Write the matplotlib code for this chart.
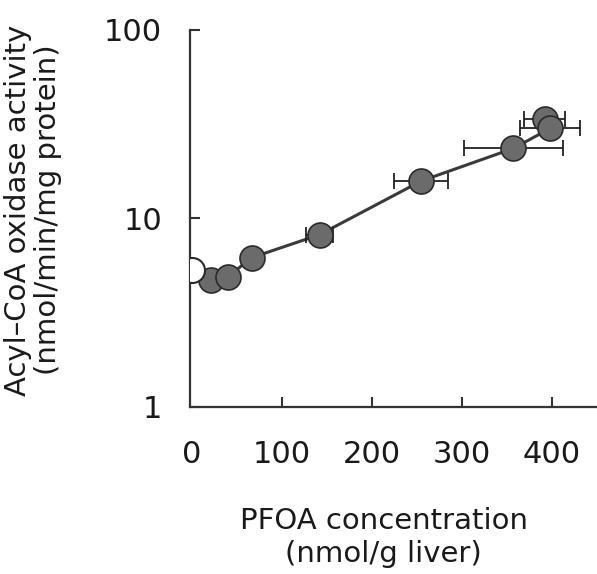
import matplotlib
matplotlib.use('Agg')
import matplotlib.pyplot as plt

plt.rcParams['font.family'] = 'DejaVu Sans'

# control (open circle)
ctrl_x = [0]
ctrl_y = [5.3]

# PFOA-treated groups (filled circles)
pfoa_x = [22, 40, 67, 142, 255, 357, 392, 398]
pfoa_y = [4.7, 4.9, 6.2, 8.2, 15.8, 23.5, 33.5, 30.0]
pfoa_xerr = [0, 0, 0, 15, 30, 55, 23, 33]

# fitted curve
line_x = [0, 22, 40, 67, 142, 255, 357, 398]
line_y = [5.1, 4.7, 4.9, 6.2, 8.2, 15.8, 23.5, 30.0]

fig = plt.figure(figsize=(5.97, 5.74), dpi=100)
ax = fig.add_axes([0.318, 0.291, 0.682, 0.657])

ax.plot(line_x, line_y, color='#3a3a3a', lw=2.2, zorder=2)
ax.errorbar(pfoa_x, pfoa_y, xerr=pfoa_xerr, fmt='none', ecolor='#222222',
            elinewidth=1.3, capsize=6, capthick=1.3, zorder=3)
ax.plot(pfoa_x, pfoa_y, 'o', ms=18, mfc='#6b6b6b', mec='#2a2a2a', mew=1.2, zorder=4)
ax.plot(ctrl_x, ctrl_y, 'o', ms=18, mfc='white', mec='#2a2a2a', mew=1.5, zorder=5)

ax.set_yscale('log')
ax.set_ylim(1, 100)
ax.set_xlim(-2, 450)
ax.set_yticks([1, 10, 100])
ax.set_yticklabels(['1', '10', '100'])
ax.minorticks_off()
ax.set_xticks([0, 100, 200, 300, 400])

for s in ['top', 'right']:
    ax.spines[s].set_visible(False)
for s in ['left', 'bottom']:
    ax.spines[s].set_linewidth(1.6)
    ax.spines[s].set_color('#333333')

ax.tick_params(axis='both', direction='in', length=7, width=1.5, color='#333333',
               labelsize=22, labelcolor='#1a1a1a')
ax.tick_params(axis='y', pad=20)
ax.tick_params(axis='x', pad=24)
ax.xaxis.get_major_ticks()[0].tick1line.set_visible(False)

fig.text(0.643, 0.063, 'PFOA concentration\n(nmol/g liver)', fontsize=21,
         ha='center', va='center', linespacing=1.22, color='#1a1a1a')
fig.text(0.055, 0.634, 'Acyl\u2013CoA oxidase activity\n(nmol/min/mg protein)', fontsize=21,
         ha='center', va='center', rotation=90, linespacing=1.1, color='#1a1a1a')

fig.savefig('out.png', dpi=100)
